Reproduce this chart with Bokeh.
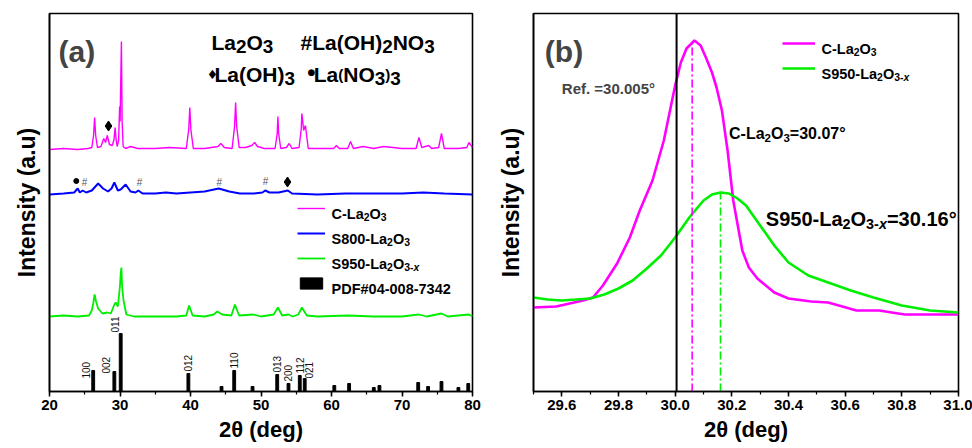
import numpy as np
from bokeh.plotting import figure
from bokeh.models import (Range1d, SingleIntervalTicker, FixedTicker, PrintfTickFormatter,
                          Label, Legend, LegendItem, ColumnDataSource, Span)
from bokeh.layouts import row
from bokeh.embed import file_html
from bokeh.resources import INLINE
from bokeh.core.properties import value

FONT = "Liberation Sans"
PINK = "#FF00FF"
BLUE = "#0000FF"
GREEN = "#00EE00"

# ---------------- panel (a) data: 2theta (deg) / stacked intensity (a.u.) ----------------
c_x = [20.0, 22.0, 24.0, 25.5, 26.0, 26.25, 26.4, 26.55, 26.8, 27.3, 27.7, 27.95, 28.2, 28.5, 28.9,
       29.15, 29.3, 29.45, 29.6, 29.8, 29.95, 30.02, 30.08, 30.2, 30.3, 30.45, 30.8, 31.5, 32.5, 35.0,
       37.0, 39.4, 39.75, 39.9, 40.05, 40.4, 42.0, 43.9, 44.3, 44.8, 45.9, 46.25, 46.4, 46.55, 46.9,
       47.8, 48.7, 49.1, 49.5, 50.5, 52.0, 52.3, 52.4, 52.5, 52.8, 53.6, 54.0, 54.4, 55.4, 55.7, 55.8,
       56.05, 56.3, 56.7, 58.0, 60.3, 60.7, 61.1, 62.3, 62.7, 63.1, 64.5, 66.0, 67.4, 70.0, 72.0,
       72.4, 72.8, 73.8, 74.2, 75.2, 75.6, 76.0, 78.0, 79.2, 79.5, 80.0]
c_y = [242, 243, 242, 243, 244, 256, 274, 256, 244, 245, 253, 249, 256, 247, 246,
       252, 264, 252, 245, 251, 285, 270, 300, 350, 270, 245, 243, 245, 243, 243,
       244, 243, 262, 284, 262, 243, 243, 245, 248, 244, 243, 265, 289, 265, 244,
       244, 246, 249, 245, 243, 243, 258, 275, 258, 243, 244, 248, 243, 244, 262, 278,
       261, 266, 243, 243, 243, 246, 243, 243, 250, 243, 245, 243, 245, 243, 243,
       254, 244, 246, 243, 244, 258, 243, 243, 244, 249, 244]

s800_x = [20.0, 22.0, 23.5, 24.0, 24.3, 24.7, 25.2, 26.0, 26.9, 27.6, 28.3, 28.8, 29.2, 29.7, 30.1,
          30.8, 31.5, 32.2, 32.6, 33.2, 35.0, 36.5, 38.0, 40.0, 42.0, 44.0, 45.5, 47.0, 49.0, 50.2,
          50.6, 51.2, 52.5, 53.8, 54.4, 58.0, 62.0, 66.0, 70.0, 73.0, 76.0, 80.0]
s800_y = [197, 198, 199, 203, 199, 201, 199, 201, 208, 203, 200, 203, 209, 201, 202,
          207, 200, 199, 201, 198, 198, 199, 198, 199, 200, 203, 200, 198, 198, 199,
          201, 199, 199, 201, 198, 197, 198, 198, 198, 199, 198, 197]

s950_x = [20.0, 22.0, 24.0, 25.6, 26.0, 26.2, 26.4, 26.6, 26.9, 27.5, 28.2, 28.7, 29.2, 29.4, 29.7,
          30.0, 30.1, 30.2, 30.3, 30.5, 30.9, 32.0, 35.0, 38.0, 39.4, 39.8, 40.3, 42.0, 43.3, 43.8,
          44.5, 45.8, 46.3, 46.9, 48.9, 50.0, 51.8, 52.4, 53.0, 53.9, 54.5, 55.3, 55.8, 56.5, 58.0,
          62.4, 66.0, 70.0, 72.4, 73.5, 75.6, 76.5, 79.5, 80.0]
s950_y = [75, 76, 75, 76, 81, 88, 97, 90, 83, 78, 79, 78, 87, 89, 85,
          106, 118, 124, 105, 91, 77, 75, 75, 75, 76, 86, 76, 75, 77, 80,
          77, 76, 87, 76, 77, 75, 77, 84, 76, 77, 75, 77, 84, 76, 75,
          76, 75, 75, 77, 75, 78, 75, 77, 75]

# PDF#04-008-7342 reference pattern
pdf_pos = [26.2, 29.2, 30.1, 39.7, 44.4, 46.2, 48.8, 52.3, 53.9, 55.5, 56.2, 60.4, 62.5, 66.0, 66.8,
           72.3, 73.7, 75.6, 78.0, 79.4]
pdf_int = [21, 20, 58, 18, 5, 21, 5, 17, 8, 16, 13, 6, 8, 4, 6, 9, 5, 10, 4, 8]
pdf_hkl = ["100", "002", "011", "012", "", "110", "", "013", "200", "112", "021", "", "", "", "",
           "", "", "", "", ""]

# phase markers
mark_diamond_x = [28.37, 53.76]          # La(OH)3
mark_diamond_y = [265.5, 209.5]
mark_dot_x = [23.8]                      # La(NO3)3
mark_dot_y = [210.5]
mark_hash_x = [24.96, 32.77, 44.1, 50.64]   # La(OH)2NO3
mark_hash_y = [209.5, 209.5, 209.5, 210.0]

# ---------------- panel (b) data ----------------
bc_x = [29.50, 29.58, 29.675, 29.71, 29.745, 29.795, 29.84, 29.875, 29.92, 29.96, 30.00, 30.02, 30.04,
        30.068, 30.09, 30.11, 30.13, 30.146, 30.165, 30.185, 30.205, 30.237, 30.26, 30.29, 30.35,
        30.40, 30.48, 30.54, 30.59, 30.64, 30.72, 30.81, 30.90, 31.00]
bc_y = [84, 85, 91, 94, 106, 128, 154, 181, 211, 251, 306, 329, 343,
        351, 346, 333, 319, 304, 281, 241, 191, 141, 124, 113, 99,
        93, 90, 89, 85, 81, 81, 77, 77, 77]
bs_x = [29.50, 29.55, 29.60, 29.70, 29.75, 29.80, 29.85, 29.90, 29.95, 30.00, 30.05, 30.10, 30.13,
        30.16, 30.19, 30.22, 30.25, 30.30, 30.35, 30.40, 30.47, 30.55, 30.62, 30.70, 30.80, 30.90, 31.00]
bs_y = [94, 92, 91, 93, 97, 103, 111, 123, 136, 154, 174, 191, 197,
        199, 198, 193, 186, 166, 146, 129, 116, 108, 101, 94, 86, 81, 79]
ref_pos = 30.005
peak_pos = [30.06, 30.16]
peak_top = [351, 199]

# ---------------- helpers ----------------
BW = {' ': 278, '#': 556, '(': 333, ')': 333, '-': 333, '.': 278, '=': 584, '°': 400, 'C': 722,
      'H': 722, 'L': 611, 'N': 722, 'O': 778, 'R': 722, 'S': 667, 'a': 556, 'e': 556, 'f': 333,
      'x': 556, 'P': 667, 'D': 722, 'F': 611, '♦': 620, '●': 700}


def tw(s, size):
    return sum(BW.get(ch, 556) for ch in s) * size / 1000.0


def rich(p, x, y, parts, size):
    off = 0.0
    for txt, kind in parts:
        font = FONT
        if kind == "n":
            fs, dy, st = size, 0.0, "bold"
        elif kind == "d":
            fs, dy, st = size * 0.9, -size * 0.17, "bold"
        elif kind == "sm":
            fs, dy, st = size * 0.72, 0.0, "bold"
        elif kind == "s":
            fs, dy, st = size * 0.72, -size * 0.25, "bold"
        elif kind == "si":
            fs, dy, st = size * 0.72, -size * 0.25, "bold italic"
        elif kind == "dot":
            fs, dy, st = size * 0.42, size * 0.12, "normal"
            font = "DejaVu Sans"
        else:  # diamond symbol
            fs, dy, st = size * 0.6, 0.0, "normal"
            font = "DejaVu Sans"
        p.add_layout(Label(x=x, y=y + dy, x_offset=off, text=txt, text_font=font,
                           text_font_size=f"{fs:.1f}px", text_font_style=st,
                           text_baseline="alphabetic", text_align="left", text_color="black"))
        off += tw(txt, fs)


def style(p, xticker, fmt=None):
    p.xgrid.visible = False
    p.ygrid.visible = False
    p.outline_line_color = "black"
    p.outline_line_width = 1.6
    p.outline_line_alpha = 1.0
    p.background_fill_color = "white"
    p.border_fill_color = "white"
    xa = p.xaxis[0]
    xa.ticker = xticker
    if fmt is not None:
        xa.formatter = fmt
    xa.axis_label = "2θ (deg)"
    xa.axis_label_text_font = FONT
    xa.axis_label_text_font_size = "22px"
    xa.axis_label_text_font_style = "bold"
    xa.axis_label_text_color = "black"
    xa.axis_label_standoff = 4
    xa.major_label_text_font = FONT
    xa.major_label_text_font_size = "15px"
    xa.major_label_text_font_style = "bold"
    xa.major_label_text_color = "black"
    xa.major_label_standoff = 3
    xa.major_tick_in = 0
    xa.major_tick_out = 5
    xa.minor_tick_in = 0
    xa.minor_tick_out = 3
    xa.axis_line_width = 1.6
    xa.major_tick_line_width = 1.5
    xa.minor_tick_line_width = 1.2
    ya = p.yaxis[0]
    ya.ticker = FixedTicker(ticks=[])
    ya.major_tick_line_color = None
    ya.minor_tick_line_color = None
    ya.axis_label = "Intensity (a.u)"
    ya.axis_label_text_font = FONT
    ya.axis_label_text_font_size = "23px"
    ya.axis_label_text_font_style = "bold"
    ya.axis_label_text_color = "black"
    ya.axis_label_standoff = 10
    ya.axis_line_width = 1.6


def legend_with_rich(p, renderers, labels, loc, gw, size, x0, x1, frame_w):
    """Legend glyphs from Bokeh; labels drawn as rich text beside them."""
    n = len(renderers)
    lh, sp, stand = 20, 5, 6
    leg = Legend(items=[LegendItem(label=" ", renderers=[r]) for r in renderers],
                 location=loc, padding=0, margin=0, spacing=sp, label_height=lh,
                 glyph_height=14, glyph_width=gw, label_standoff=stand,
                 border_line_color=None, background_fill_alpha=0,
                 label_text_font=FONT, label_text_font_size="2px")
    p.add_layout(leg)
    total_h = n * lh + (n - 1) * sp
    tx = x0 + (loc[0] + gw + stand) / frame_w * (x1 - x0)
    for i, parts in enumerate(labels):
        cy = loc[1] + total_h - lh / 2 - i * (lh + sp)
        rich(p, tx, cy - size * 0.36, parts, size)


# ---------------- panel (a) ----------------
pa = figure(width=482, height=448, x_range=Range1d(20, 80), y_range=Range1d(0, 378),
            output_backend="svg", toolbar_location=None,
            min_border_left=49, min_border_right=10, min_border_top=13, min_border_bottom=57)
pa.title.visible = False
style(pa, SingleIntervalTicker(interval=10, num_minor_ticks=2))

r_c = pa.line(c_x, c_y, line_color=PINK, line_width=1.4)
r_800 = pa.line(s800_x, s800_y, line_color=BLUE, line_width=2.0)
r_950 = pa.line(s950_x, s950_y, line_color=GREEN, line_width=1.8)
pdf_src = ColumnDataSource(dict(x=pdf_pos, top=pdf_int))
r_pdf = pa.vbar(x="x", top="top", bottom=0, width=0.4, color="black", source=pdf_src)

lab_x, lab_y, lab_t = [], [], []
for xp, h, t in zip(pdf_pos, pdf_int, pdf_hkl):
    if t:
        lab_x.append(xp)
        lab_y.append(h)
        lab_t.append(t)
lab_xoff = {"100": -7, "002": -8, "011": -6, "021": 4}
lab_yoff = {"100": -8, "002": -2, "011": 1, "021": 0}
lab_src = ColumnDataSource(dict(
    x=lab_x, y=[yy + lab_yoff.get(t, 2) for yy, t in zip(lab_y, lab_t)], t=lab_t,
    xo=[lab_xoff.get(t, 0) for t in lab_t]))
pa.text(x="x", y="y", text="t", x_offset="xo", angle=np.pi / 2, source=lab_src,
        text_font=value(FONT), text_font_size="10px", text_align="left",
        text_baseline="middle", text_color="#111111")

pa.scatter(mark_diamond_x, mark_diamond_y, marker="diamond", size=10, color="black")
pa.scatter(mark_dot_x, mark_dot_y, marker="circle", size=5, color="black")
pa.text(x=mark_hash_x, y=mark_hash_y, text=["#"] * len(mark_hash_x), text_font=value(FONT),
        text_font_size="10px", text_align="center", text_baseline="middle", text_color="#555555")

legend_with_rich(pa, [r_c, r_800, r_950, r_pdf],
                 [[("C-La", "n"), ("2", "s"), ("O", "n"), ("3", "s")],
                  [("S800-La", "n"), ("2", "s"), ("O", "n"), ("3", "s")],
                  [("S950-La", "n"), ("2", "s"), ("O", "n"), ("3-", "s"), ("x", "si")],
                  [("PDF#04-008-7342", "n")]],
                 (248, 98), 28, 14.5, 20, 80, 423)

pa.add_layout(Label(x=21.28, y=340, text="(a)", text_font=FONT, text_font_size="30px",
                    text_font_style="bold", text_baseline="alphabetic"))
rich(pa, 42.98, 349, [("La", "n"), ("2", "d"), ("O", "n"), ("3", "d")], 21)
rich(pa, 55.6, 349, [("#La(OH)", "n"), ("2", "d"), ("NO", "n"), ("3", "d")], 21)
rich(pa, 42.3, 317, [("♦", "y"), ("La(OH)", "n"), ("3", "d")], 21)
rich(pa, 56.6, 317, [("●", "dot"), ("La", "n"), ("(", "sm"), ("NO", "n"), ("3", "d"), (")", "sm"), ("3", "d")], 21)

# ---------------- panel (b) ----------------
pb = figure(width=490, height=448, x_range=Range1d(29.5, 31.0), y_range=Range1d(0, 378),
            output_backend="svg", toolbar_location=None,
            min_border_left=51, min_border_right=14, min_border_top=13, min_border_bottom=57)
pb.title.visible = False
style(pb, SingleIntervalTicker(interval=0.2, num_minor_ticks=2), PrintfTickFormatter(format="%.1f"))

rb_c = pb.line(bc_x, bc_y, line_color=PINK, line_width=2.6)
rb_s = pb.line(bs_x, bs_y, line_color=GREEN, line_width=2.6)
pb.add_layout(Span(location=ref_pos, dimension="height", line_color="black", line_width=2))
pb.segment(x0=peak_pos, y0=[0, 0], x1=peak_pos, y1=peak_top, line_color=[PINK, GREEN],
           line_width=1.6, line_dash="8 3 2 3")

legend_with_rich(pb, [rb_c, rb_s],
                 [[("C-La", "n"), ("2", "s"), ("O", "n"), ("3", "s")],
                  [("S950-La", "n"), ("2", "s"), ("O", "n"), ("3-", "s"), ("x", "si")]],
                 (249, 313), 33, 14.5, 29.5, 31.0, 425)

pb.add_layout(Label(x=29.54, y=340, text="(b)", text_font=FONT, text_font_size="30px",
                    text_font_style="bold", text_baseline="alphabetic"))
pb.add_layout(Label(x=29.60, y=303, text="Ref. =30.005°", text_font=FONT, text_font_size="15px",
                    text_font_style="bold", text_baseline="alphabetic"))
rich(pb, 30.19, 258, [("C-La", "n"), ("2", "s"), ("O", "n"), ("3", "s"), ("=30.07°", "n")], 16)
rich(pb, 30.32, 173, [("S950-La", "n"), ("2", "s"), ("O", "n"), ("3-", "s"), ("x", "si"),
                      ("=30.16°", "n")], 20)

layout = row(pa, pb)
open("out.html", "w").write(file_html(layout, INLINE))
